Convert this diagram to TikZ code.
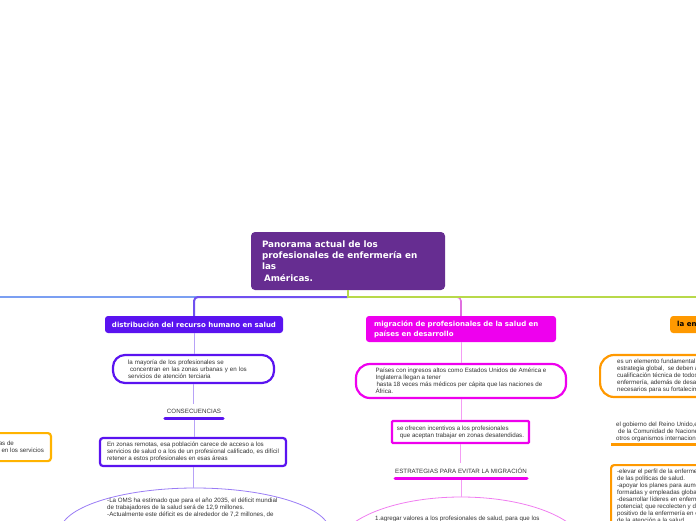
\documentclass[tikz,border=0pt]{standalone}
\usepackage{fontspec}
\setmainfont{Liberation Sans}
\newfontfamily\titlefont{DejaVu Sans}
\usetikzlibrary{shapes.geometric}
\definecolor{cpurple}{HTML}{662D91}
\definecolor{cviolet}{HTML}{5A13F0}
\definecolor{clviolet}{HTML}{B7A2F7}
\definecolor{celv}{HTML}{9A7CF5}
\definecolor{cmag}{HTML}{EE00EE}
\definecolor{clmag}{HTML}{F49CF4}
\definecolor{cemag}{HTML}{F07CF0}
\definecolor{corange}{HTML}{FF9900}
\definecolor{cyellow}{HTML}{FFB300}
\definecolor{cblue}{HTML}{7B9FF2}
\definecolor{cgreen}{HTML}{B8D94A}
\definecolor{cline}{HTML}{7050F0}
\definecolor{cvert}{HTML}{E070E0}
\definecolor{ctext}{HTML}{333333}
\tikzset{
  body/.style={font=\fontsize{6.2}{7}\selectfont, text=ctext, align=left, inner sep=0pt},
  central/.style={rectangle, rounded corners=4pt, fill=cpurple, text=white,
    font=\titlefont\bfseries\fontsize{8.8}{11.3}\selectfont, align=left,
    minimum width=194pt, minimum height=58pt, inner ysep=0pt, inner xsep=11pt, text width=172pt},
  ttl/.style={rectangle, rounded corners=3pt, text=white, align=left,
    font=\titlefont\bfseries\fontsize{7}{10}\selectfont, inner sep=0pt},
  pill/.style={body, rectangle, rounded corners=12pt, fill=white, line width=2.2pt},
  sqbox/.style={body, rectangle, rounded corners=3pt, fill=white, line width=2.2pt},
  lab/.style={body, inner xsep=0pt, inner ysep=4.8pt},
  connL/.style={draw=clviolet, line width=1pt},
  connM/.style={draw=clmag, line width=1pt},
  bar/.style={line width=3pt, line cap=round},
}
\begin{document}
\begin{tikzpicture}[x=1pt,y=-1pt]
\path[use as bounding box, clip] (0,0) rectangle (696,520);

% central
\node[central] (cn) at (348,261) {Panorama actual de los\\profesionales de enfermería en\\las\\\hspace*{2pt}Américas.};
\coordinate (hub) at (348,297);
\coordinate (westEnd) at (-10,297);
\coordinate (eastEnd) at (710,297);

% branch titles
\node[ttl, fill=cviolet, minimum width=178pt, minimum height=17pt] (tL) at (194,324.5) {distribución del recurso humano en salud};
\node[ttl, fill=cmag, minimum width=190pt, minimum height=26pt, inner xsep=8pt, text width=174pt] (tM) at (461,329) {migración de profesionales de la salud en\\países en desarrollo};
\node[ttl, fill=corange, text=black, minimum height=17pt, inner xsep=7pt, anchor=west] (tR) at (670,324.5) {la enfermería como profesión};

% main connectors
\draw[cblue, line width=2pt] (hub) -- (westEnd);
\draw[cline, line width=2pt, rounded corners=4pt] (hub) -| (tL.north);
\draw[cvert, line width=1.6pt, rounded corners=4pt] (hub) -| (tM.north);
\draw[cgreen, line width=2pt] (cn.south) -- (hub) -- (eastEnd);

% left subtree
\node[pill, draw=cviolet, minimum width=161pt, minimum height=28pt, inner xsep=15pt, text width=131pt] (pL1) at (193.5,369) {la mayoría de los profesionales se\\\hspace*{2pt}concentran en las zonas urbanas y en los\\servicios de atención terciaria};
\node[lab, minimum width=58pt] (cons) at (194,411) {CONSECUENCIAS};
\node[sqbox, draw=cviolet, minimum width=186pt, minimum height=28pt] (bL2) at (193,452) {En zonas remotas, esa población carece de acceso a los\\servicios de salud o a los de un profesional calificado, es difícil\\retener a estos profesionales en esas áreas};
\node[ellipse, draw=celv, line width=0.8pt, minimum width=270pt, minimum height=88pt] (eL) at (195,532) {};
\node[body, anchor=north west] (eLt) at (107,498) {-La OMS ha estimado que para el año 2035, el déficit mundial\\de trabajadores de la salud será de 12,9 millones.\\-Actualmente este déficit es de alrededor de 7,2 millones, de};
\draw[connL] (tL.south) -- (tL.south |- pL1.north);
\draw[connL] (pL1.south) -- (pL1.south |- cons.north);
\draw[connL] (cons.south) -- (cons.south |- bL2.north);
\draw[connL] (bL2.south) -- (bL2.south |- eL.north);
\draw[bar, cviolet] (cons.south west) -- (cons.south east);

% middle subtree
\node[pill, draw=cmag, rounded corners=14pt, minimum width=210pt, minimum height=34pt] (pM1) at (461,381) {Países con ingresos altos como Estados Unidos de América e\\Inglaterra llegan a tener\\\hspace*{1pt}hasta 18 veces más médicos per cápita que las naciones de\\África.};
\node[sqbox, draw=cmag, rounded corners=1pt, minimum width=137pt, minimum height=22pt] (bM2) at (460.5,432) {se ofrecen incentivos a los profesionales\\\hspace*{3pt}que aceptan trabajar en zonas desatendidas.};
\node[lab, minimum width=131pt] (estr) at (461,471) {ESTRATEGIAS PARA EVITAR LA MIGRACIÓN};
\node[ellipse, draw=cemag, line width=0.8pt, minimum width=250pt, minimum height=106pt] (eM) at (461,550) {};
\node[body, anchor=north west] (eMt) at (375,515.5) {1.agregar valores a los profesionales de salud, para que los};
\draw[connM] (tM.south) -- (tM.south |- pM1.north);
\draw[connM] (pM1.south) -- (pM1.south |- bM2.north);
\draw[connM] (bM2.south) -- (bM2.south |- estr.north);
\draw[connM] (estr.south) -- (estr.south |- eM.north);
\draw[bar, cmag] (estr.south west) -- (estr.south east);

% right subtree
\node[pill, draw=corange, rounded corners=14pt, minimum height=42pt, inner xsep=17pt, anchor=west] (pR1) at (599,376) {es un elemento fundamental en la\\estrategia global,\ \ se deben asegurar la\\cualificación técnica de todos los profesionales de\\enfermería, además de desarrollar los recursos\\necesarios para su fortalecimiento.};
\node[body, anchor=north west, inner xsep=5pt, inner ysep=2.5pt] (gR) at (611,419) {el gobierno del Reino Unido,en colaboración con el Secretariado\\\hspace*{2pt}de la Comunidad de Naciones, la OMS y\\otros organismos internacionales};
\draw[bar, corange, line cap=butt] (gR.south west) -- (gR.south east);
\node[sqbox, draw=corange, anchor=north west, inner xsep=6pt, inner ysep=4pt] (bR3) at (610,464) {-elevar el perfil de la enfermería en el desarrollo\\de las políticas de salud.\\-apoyar los planes para aumentar las enfermeras\\formadas y empleadas globalmente.\\-desarrollar líderes en enfermería con\\potencial; que recolecten y difundan\\positivo de la enfermería en el ámbito\\de la atención a la salud.};

% far left box
\node[sqbox, draw=cyellow, anchor=north east, minimum height=28pt, inner xsep=7pt] (bY) at (52,432) {capacitadas de\\ser mayor en los servicios};
\end{tikzpicture}
\end{document}
